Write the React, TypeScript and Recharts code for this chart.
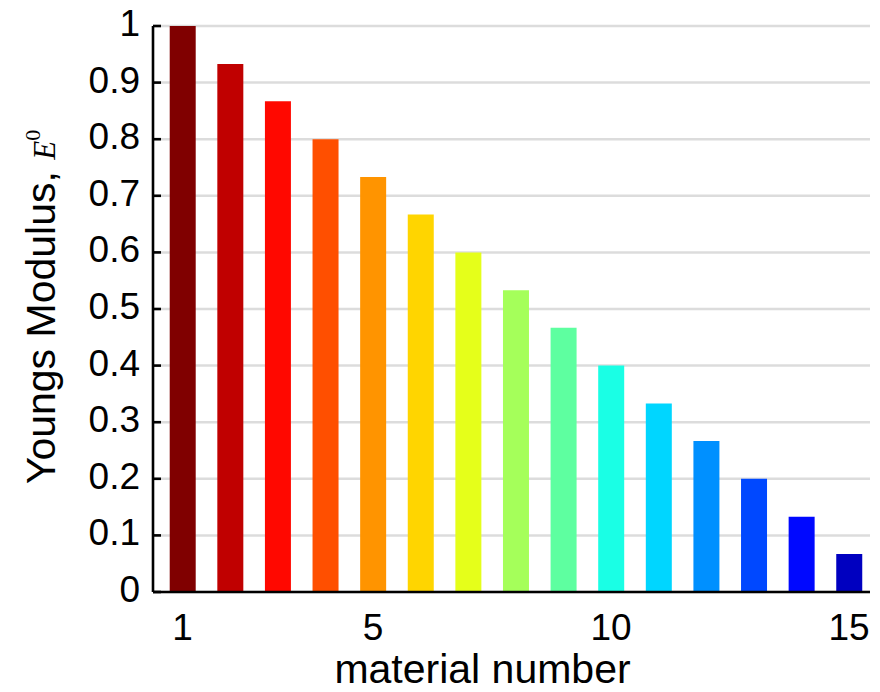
import { BarChart, Bar, Cell, XAxis, YAxis, CartesianGrid, Label } from 'recharts';

// material numbers and their Youngs modulus values
const materials = [1, 2, 3, 4, 5, 6, 7, 8, 9, 10, 11, 12, 13, 14, 15];
const modulus = [1, 0.933, 0.867, 0.8, 0.733, 0.667, 0.6, 0.533, 0.467, 0.4, 0.333, 0.267, 0.2, 0.133, 0.067];
const barColors = [
    '#800000', '#c00000', '#ff0800', '#ff4f00', '#ff9400',
    '#ffd500', '#e5ff1a', '#a5ff5a', '#5effa0', '#1affe5',
    '#00d6ff', '#0090ff', '#0048ff', '#0008ff', '#0000c0',
];
const xTicks = [1, 5, 10, 15];
const yTicks = [0, 0.1, 0.2, 0.3, 0.4, 0.5, 0.6, 0.7, 0.8, 0.9, 1];

const data = materials.map((m, i) => ({ material: m, value: modulus[i] }));

const FONT = '"Liberation Sans", Arial, Helvetica, sans-serif';
const TICK_FONT = 37;
const FRAME = 2.6;

const LeftTick = (props: any) => {
    const { x, y, payload } = props;
    const axisX = x + 13;
    return (
        <g>
            <line x1={axisX} x2={axisX + 8} y1={y} y2={y} stroke="#000" strokeWidth={FRAME} />
            <text x={x} y={y + 10} textAnchor="end" fontFamily={FONT} fontSize={TICK_FONT} fill="#000">
                {payload.value}
            </text>
        </g>
    );
};

const RightTick = (props: any) => {
    const { x, y } = props;
    return <line x1={x - 8} x2={x} y1={y} y2={y} stroke="#000" strokeWidth={FRAME} />;
};

const BottomTick = (props: any) => {
    const { x, y, payload } = props;
    return (
        <text x={x} y={y + 38} textAnchor="middle" fontFamily={FONT} fontSize={TICK_FONT} fill="#000">
            {payload.value}
        </text>
    );
};

const YLabel = (props: any) => {
    const vb = props.viewBox;
    const lx = vb.x + 55;
    const ly = vb.y + vb.height / 2 - 2;
    return (
        <text
            x={lx}
            y={ly}
            transform={`rotate(-90, ${lx}, ${ly})`}
            textAnchor="middle"
            fontFamily={FONT}
            fontSize={41}
            fill="#000"
        >
            Youngs Modulus,{' '}
            <tspan fontFamily='"Liberation Serif", "DejaVu Serif", serif' fontStyle="italic" fontSize={31}>
                E
            </tspan>
            <tspan fontFamily='"Liberation Serif", "DejaVu Serif", serif' fontSize={22} dy={-15}>
                0
            </tspan>
        </text>
    );
};

export default function App() {
    return (
        <div style={{ position: 'absolute', left: 0, top: 0, background: '#fff' }}>
            <BarChart
                width={880}
                height={692}
                data={data}
                margin={{ top: 26, right: 10, left: 0, bottom: 0 }}
            >
                <CartesianGrid vertical={false} stroke="#dcdcdc" strokeWidth={2.5} />
                <XAxis
                    dataKey="material"
                    type="number"
                    domain={[0.38, 15.44]}
                    ticks={xTicks}
                    height={100}
                    tickLine={false}
                    tickSize={0}
                    tickMargin={10}
                    axisLine={{ stroke: '#000', strokeWidth: FRAME }}
                    tick={<BottomTick />}
                    interval={0}
                    allowDataOverflow
                >
                    <Label
                        value="material number"
                        position="insideBottom"
                        offset={9}
                        dx={-29}
                        style={{ fontFamily: FONT, fontSize: 41, fill: '#000' }}
                    />
                </XAxis>
                <XAxis
                    xAxisId="top"
                    orientation="top"
                    type="number"
                    domain={[0.38, 15.44]}
                    height={0}
                    tick={false}
                    tickLine={false}
                    axisLine={{ stroke: '#000', strokeWidth: FRAME }}
                />
                <YAxis
                    type="number"
                    domain={[0, 1]}
                    ticks={yTicks}
                    width={153}
                    tickLine={false}
                    tickSize={0}
                    tickMargin={13}
                    axisLine={{ stroke: '#000', strokeWidth: FRAME }}
                    tick={<LeftTick />}
                    interval={0}
                >
                    <Label content={<YLabel />} />
                </YAxis>
                <YAxis
                    yAxisId="right"
                    orientation="right"
                    type="number"
                    domain={[0, 1]}
                    ticks={yTicks}
                    width={0}
                    tickLine={false}
                    tickSize={0}
                    tickMargin={0}
                    axisLine={{ stroke: '#000', strokeWidth: FRAME }}
                    tick={<RightTick />}
                    interval={0}
                />
                <Bar dataKey="value" barSize={26} isAnimationActive={false}>
                    {data.map((d, i) => (
                        <Cell key={d.material} fill={barColors[i]} />
                    ))}
                </Bar>
            </BarChart>
        </div>
    );
}
